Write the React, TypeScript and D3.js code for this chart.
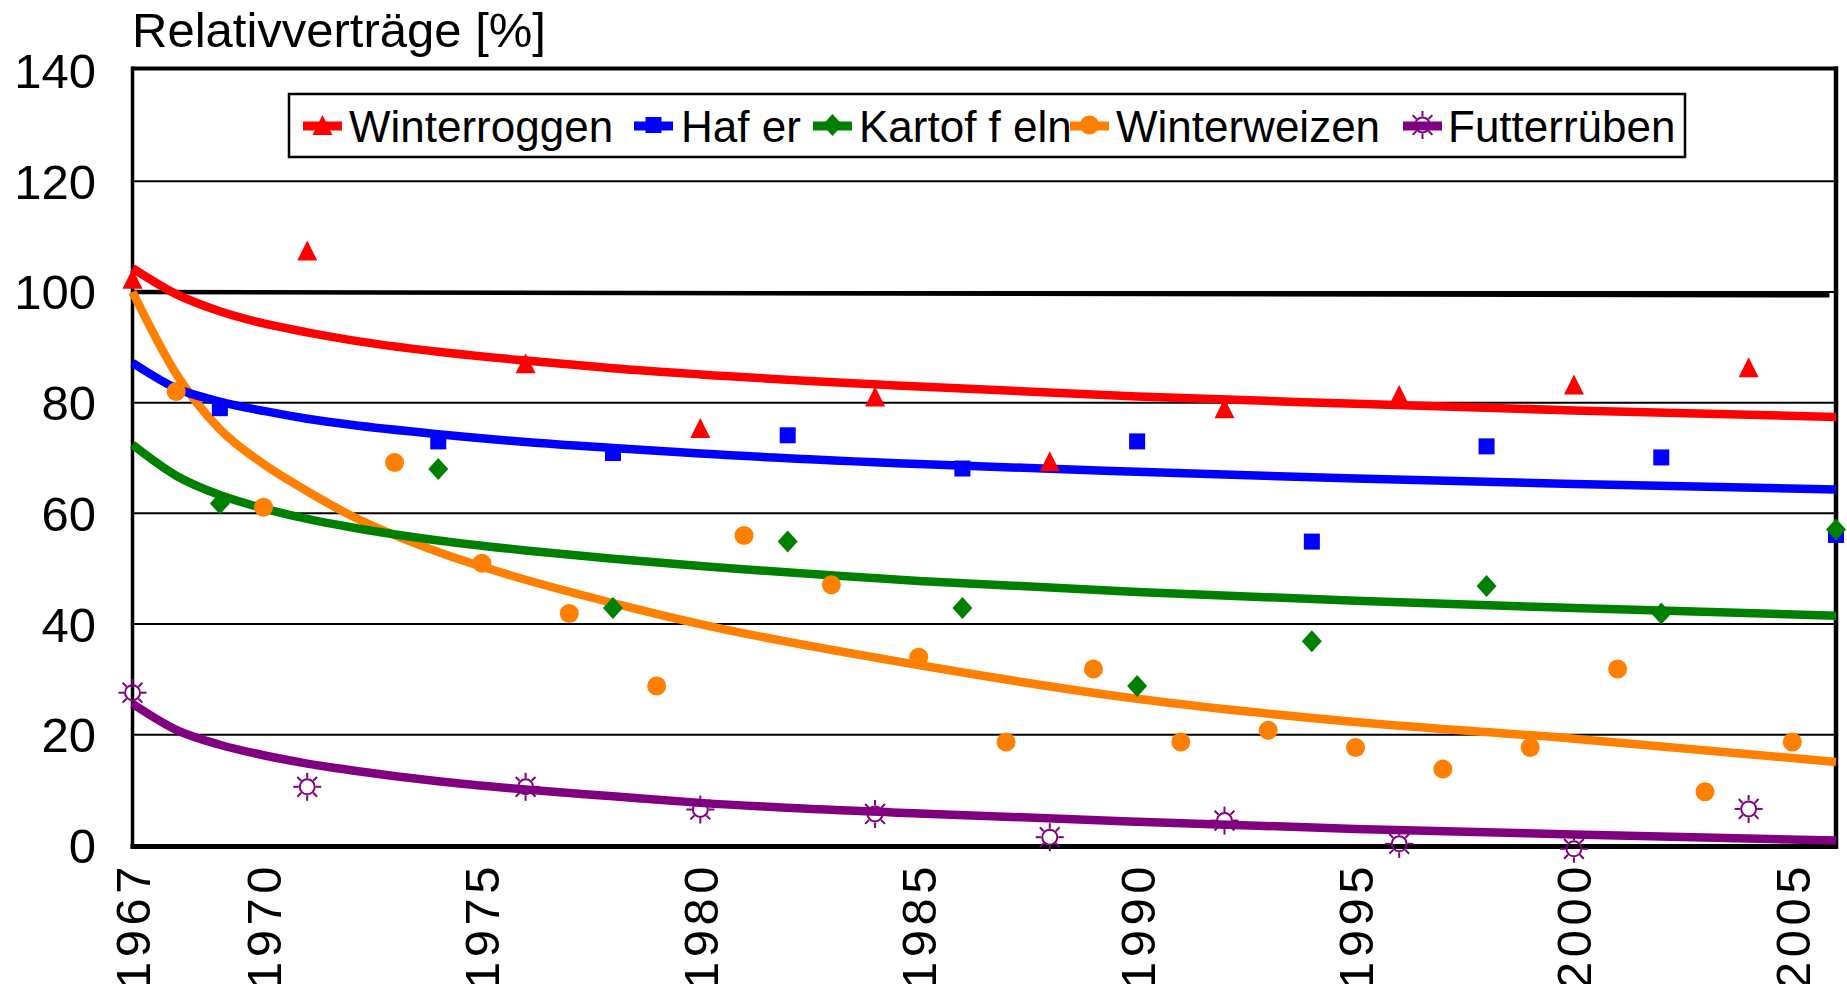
import * as d3 from 'd3';
import React from 'react';

// Versuchsjahre und Relativerträge (Punkte) je Frucht
const roggenYears = [1967, 1971, 1976, 1980, 1984, 1988, 1992, 1996, 2000, 2004];
const roggenValues = [102.4, 107.5, 87.1, 75.4, 81.1, 69.4, 79.0, 81.4, 83.3, 86.4];

const haferYears = [1969, 1974, 1978, 1982, 1986, 1990, 1994, 1998, 2002, 2006];
const haferValues = [79.0, 73.0, 70.9, 74.1, 68.1, 73.0, 54.9, 72.1, 70.1, 56.1];

const kartoffelnYears = [1969, 1974, 1978, 1982, 1986, 1990, 1994, 1998, 2002, 2006];
const kartoffelnValues = [61.8, 68.0, 42.9, 54.9, 42.9, 28.8, 36.9, 46.9, 41.9, 57.1];

const weizenYears = [1968, 1970, 1973, 1975, 1977, 1979, 1981, 1983, 1985, 1987, 1989, 1991, 1993, 1995, 1997, 1999, 2001, 2003, 2005];
const weizenValues = [82.0, 61.1, 69.2, 51.0, 41.9, 28.8, 56.0, 47.1, 34.0, 18.7, 31.9, 18.7, 20.8, 17.7, 13.8, 17.7, 31.9, 9.7, 18.7];

const rubenYears = [1967, 1971, 1976, 1980, 1984, 1988, 1992, 1996, 2000, 2004];
const rubenValues = [27.6, 10.6, 10.6, 6.5, 5.7, 1.5, 4.5, 0.3, -0.6, 6.6];

// Trendlinien
const trendYears = [1967, 1968, 1969, 1970, 1971, 1972, 1974, 1976, 1978, 1980, 1985, 1990, 1995, 2000, 2006];
const roggenTrend = [104.3, 99.6, 96.5, 94.3, 92.7, 91.3, 89.2, 87.6, 86.2, 85.1, 82.9, 81.1, 79.8, 78.6, 77.4];
const haferTrend = [87.2, 82.6, 80.2, 78.5, 77.1, 76.0, 74.3, 72.9, 71.8, 70.8, 68.9, 67.5, 66.3, 65.3, 64.3];
const kartoffelnTrend = [72.4, 66.8, 63.3, 60.9, 59.0, 57.5, 55.1, 53.3, 51.8, 50.5, 47.8, 45.8, 44.2, 42.9, 41.5];
const weizenTrend = [100, 85.2, 75.2, 68.9, 64.0, 59.6, 53.0, 48.0, 43.8, 40.0, 32.6, 26.5, 22.3, 19.3, 15.1];
const rubenTrend = [25.6, 20.9, 18.2, 16.3, 14.8, 13.6, 11.6, 10.1, 8.9, 7.7, 5.8, 4.3, 3.0, 2.0, 0.9];

// 100%-Bezugslinie
const refYears = [1967, 2005.85];
const refValues = [100, 99.4];

const yTicks = [0, 20, 40, 60, 80, 100, 120, 140];
const xTicks = [1967, 1970, 1975, 1980, 1985, 1990, 1995, 2000, 2005];

const FONT = '"Liberation Sans", Arial, Helvetica, sans-serif';

type Kind = 'triangle' | 'square' | 'diamond' | 'circle' | 'sun';

const Marker: React.FC<{ kind: Kind; x: number; y: number; color: string }> = ({ kind, x, y, color }) => {
  if (kind === 'triangle') {
    return <path d={`M${x},${y - 10}L${x + 10},${y + 10}L${x - 10},${y + 10}Z`} fill={color} />;
  }
  if (kind === 'square') {
    return <rect x={x - 8} y={y - 8} width={16} height={16} fill={color} />;
  }
  if (kind === 'diamond') {
    return <path d={`M${x},${y - 11}L${x + 10},${y}L${x},${y + 11}L${x - 10},${y}Z`} fill={color} />;
  }
  if (kind === 'circle') {
    return <ellipse cx={x} cy={y} rx={9.5} ry={9.5} fill={color} />;
  }
  const spokes = d3.range(8).map((i) => (i * Math.PI) / 4);
  return (
    <g stroke={color} strokeWidth={2} fill="none">
      <circle cx={x} cy={y} r={7.5} />
      {spokes.map((a, i) => (
        <line
          key={i}
          x1={x + Math.cos(a) * 8.5}
          y1={y + Math.sin(a) * 8.5}
          x2={x + Math.cos(a) * 14}
          y2={y + Math.sin(a) * 14}
        />
      ))}
    </g>
  );
};

const series = [
  { name: 'Winterroggen', color: '#ff0000', kind: 'triangle' as Kind, years: roggenYears, values: roggenValues, trend: roggenTrend, lx: 303, tx: 349 },
  { name: 'Haf er', color: '#0000ff', kind: 'square' as Kind, years: haferYears, values: haferValues, trend: haferTrend, lx: 634, tx: 681 },
  { name: 'Kartof f eln', color: '#008000', kind: 'diamond' as Kind, years: kartoffelnYears, values: kartoffelnValues, trend: kartoffelnTrend, lx: 813, tx: 859 },
  { name: 'Winterweizen', color: '#ff8000', kind: 'circle' as Kind, years: weizenYears, values: weizenValues, trend: weizenTrend, lx: 1070, tx: 1116 },
  { name: 'Futterrüben', color: '#800080', kind: 'sun' as Kind, years: rubenYears, values: rubenValues, trend: rubenTrend, lx: 1403, tx: 1448 },
];

const trendOrder = [3, 0, 1, 2, 4];

export default function App() {
  const width = 1847;
  const height = 984;
  const left = 132.5;
  const right = 1836;
  const top = 70.5;
  const bottom = 845.5;

  const x = d3.scaleLinear().domain([1967, 2006]).range([left, right]);
  const y = d3.scaleLinear().domain([0, 140]).range([bottom, top]);

  const line = d3
    .line<[number, number]>()
    .x((d) => x(d[0]))
    .y((d) => y(d[1]))
    .curve(d3.curveMonotoneX);

  const refLine = d3
    .line<[number, number]>()
    .x((d) => x(d[0]))
    .y((d) => y(d[1]));

  return (
    <svg
      width={width}
      height={height}
      viewBox={`0 0 ${width} ${height}`}
      style={{ position: 'absolute', left: 0, top: 0, background: '#fff', display: 'block' }}
      fontFamily={FONT}
    >
      <rect x={0} y={0} width={width} height={height} fill="#fff" />

      {/* Titel der y-Achse */}
      <text x={132} y={47} fontSize={49} fill="#000">
        Relativverträge [%]
      </text>

      {/* Gitterlinien */}
      {yTicks.slice(1, -1).map((t) => (
        <line key={t} x1={left} x2={right} y1={y(t)} y2={y(t)} stroke="#000" strokeWidth={2} />
      ))}

      {/* 100%-Linie */}
      <path
        d={refLine(refYears.map((yr, i) => [yr, refValues[i]] as [number, number])) || ''}
        stroke="#000"
        strokeWidth={4.5}
        fill="none"
      />

      {/* Rahmen */}
      <line x1={left - 1} x2={right + 2} y1={top - 2} y2={top - 2} stroke="#000" strokeWidth={4} />
      <line x1={left} x2={left} y1={top - 4} y2={bottom + 3} stroke="#000" strokeWidth={3.5} />
      <line x1={right} x2={right} y1={top - 4} y2={bottom + 3} stroke="#000" strokeWidth={4.5} />
      <line x1={left - 2} x2={right + 2} y1={bottom + 1} y2={bottom + 1} stroke="#000" strokeWidth={5} />

      {/* y-Achsenbeschriftung */}
      {yTicks.map((t) => (
        <text key={t} x={96} y={y(t) + 17.5} fontSize={49} textAnchor="end" fill="#000">
          {t}
        </text>
      ))}

      {/* x-Achsenbeschriftung */}
      {xTicks.map((t) => (
        <text
          key={t}
          transform={`translate(${x(t) + 17.5},${862}) rotate(-90)`}
          fontSize={49}
          letterSpacing={4.5}
          textAnchor="end"
          fill="#000"
        >
          {t}
        </text>
      ))}

      {/* Trendlinien */}
      {trendOrder.map((i) => {
        const s = series[i];
        return (
          <path
            key={s.name}
            d={line(trendYears.map((yr, j) => [yr, s.trend[j]] as [number, number])) || ''}
            stroke={s.color}
            strokeWidth={8.5}
            fill="none"
            strokeLinejoin="round"
          />
        );
      })}

      {/* Messpunkte */}
      {series.map((s) => (
        <g key={s.name}>
          {s.years.map((yr, j) => (
            <Marker key={yr} kind={s.kind} x={x(yr)} y={y(s.values[j])} color={s.color} />
          ))}
        </g>
      ))}

      {/* Legende */}
      <rect x={289} y={94} width={1396} height={63} fill="#fff" stroke="#000" strokeWidth={2.5} />
      {series.map((s) => (
        <g key={s.name}>
          <line x1={s.lx} x2={s.lx + 39} y1={126} y2={126} stroke={s.color} strokeWidth={9} />
          <Marker kind={s.kind} x={s.lx + 19.5} y={125} color={s.color} />
          <text x={s.tx} y={141.5} fontSize={44} fill="#000">
            {s.name}
          </text>
        </g>
      ))}
    </svg>
  );
}
